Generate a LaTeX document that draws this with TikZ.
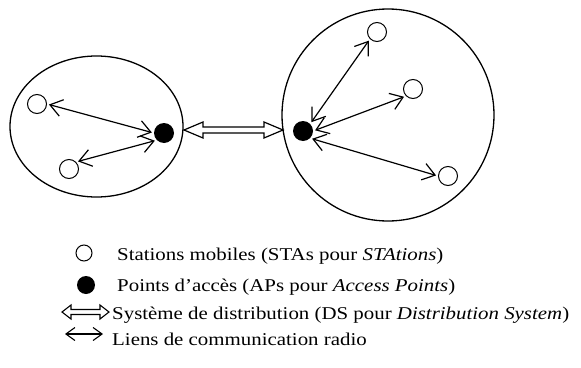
\documentclass[tikz,border=0pt]{standalone}
\usepackage{fontspec}
\setmainfont{Liberation Serif}[FakeStretch=1.16]
\usetikzlibrary{arrows.meta}
\tikzset{
  sta/.style={circle,draw,line width=1pt,minimum size=19pt,inner sep=0pt},
  ap/.style={circle,fill=black,minimum size=20pt,inner sep=0pt},
  radio/.style={line width=1.2pt,shorten <=2pt,shorten >=2pt,>={Straight Barb[length=12pt,width=17pt,line width=1.2pt]},<->},
  cell/.style={draw,line width=1.3pt},
  legtext/.style={anchor=base west,inner sep=0pt,font=\fontsize{18pt}{20pt}\selectfont}
}
\begin{document}
\begin{tikzpicture}[x=1pt,y=-1pt]
\useasboundingbox (0,0) rectangle (581,367);
% cells
\draw[cell] (96.5,126.5) ellipse [x radius=86.5,y radius=70.5];
\draw[cell] (388,115) circle [radius=106];
% left BSS
\node[sta] (s1) at (37,104) {};
\node[sta] (s2) at (69,169) {};
\node[ap] (a1) at (164,133) {};
\draw[radio] (s1.east) -- (a1.west);
\draw[radio] (s2.north east) -- (a1.south west);
% right BSS
\node[ap] (a2) at (303,131) {};
\node[sta] (s3) at (377,32) {};
\node[sta] (s4) at (413,89) {};
\node[sta] (s5) at (448,176) {};
\draw[radio] (a2.north east) -- (s3.south west);
\draw[radio] (a2.east) -- (s4.south west);
\draw[radio] (a2.south east) -- (s5.west);
% distribution system
\draw[line width=1.2pt,line join=miter] (184,130) -- (203,122) -- (203,127) -- (264,127) -- (264,122) -- (283,130) -- (264,138) -- (264,133) -- (203,133) -- (203,138) -- cycle;
% legend
\node[sta,minimum size=16pt] (l1) at (84,253) {};
\node[ap,minimum size=18pt] (l2) at (86,285) {};
\draw[line width=1.1pt,line join=miter] (62,312) -- (71,305) -- (71,309.5) -- (100,309.5) -- (100,305) -- (109,312) -- (100,319) -- (100,314.5) -- (71,314.5) -- (71,319) -- cycle;
\coordinate (r1) at (65,334);
\coordinate (r2) at (103,334);
\draw[line width=1.1pt,>={Straight Barb[length=9pt,width=13pt,line width=1.1pt]},<->] (r1) -- (r2);
\node[legtext] (t1) at (117,260) {Stations mobiles (STAs pour \textit{STAtions})};
\node[legtext] (t2) at (117,291) {Points d’accès (APs pour \textit{Access Points})};
\node[legtext] (t3) at (112,319) {Système de distribution (DS pour \textit{Distribution System})};
\node[legtext] (t4) at (112,345) {Liens de communication radio};
\end{tikzpicture}
\end{document}
